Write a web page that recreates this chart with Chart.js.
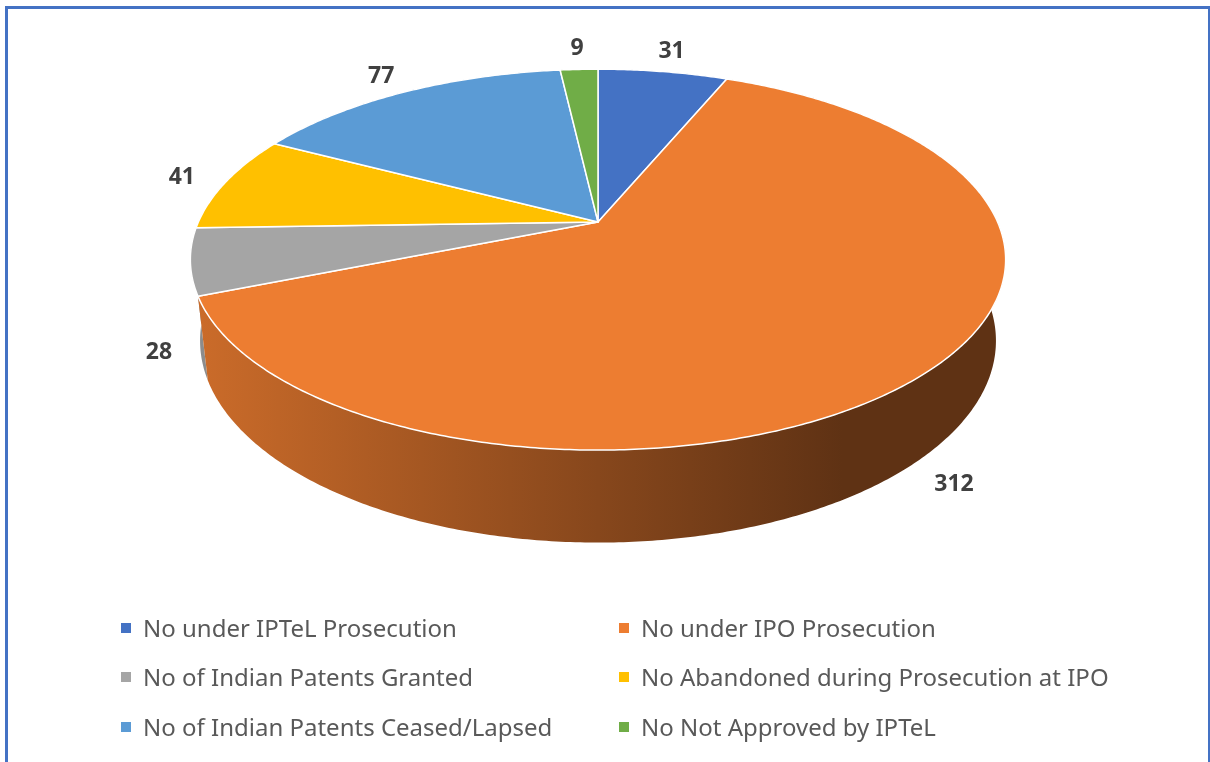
<!DOCTYPE html>
<html>
<head>
<meta charset="utf-8">
<script src="https://cdn.jsdelivr.net/npm/chart.js@4.4.1/dist/chart.umd.min.js"></script>
<style>
  html, body { margin: 0; padding: 0; background: #fff; overflow: hidden; }
  body { width: 1210px; height: 762px; position: relative; }
  #frame {
    position: absolute; left: 5px; top: 6px; width: 1205px; height: 800px; box-sizing: border-box;
    border-left: 3px solid #4472C4; border-top: 3px solid #4472C4; border-right: 2px solid #4472C4;
  }
  #chart { position: absolute; left: 0; top: 0; }
  #legend {
    position: absolute; left: 121px; top: 603px;
    display: grid; grid-template-columns: 498px auto; grid-auto-rows: 49.5px;
    font-family: "Noto Sans", sans-serif; font-size: 24px; color: #595959;
  }
  .item { display: flex; align-items: center; white-space: nowrap; line-height: 1; }
  .swatch { width: 10px; height: 10px; margin-right: 12px; flex: none; }
</style>
</head>
<body>
<div id="frame"></div>
<canvas id="chart" width="1210" height="762"></canvas>
<div id="legend"></div>
<script>
const categories = [
  'No under IPTeL Prosecution',
  'No under IPO Prosecution',
  'No of Indian Patents Granted',
  'No Abandoned during Prosecution at IPO',
  'No of Indian Patents Ceased/Lapsed',
  'No Not Approved by IPTeL'
];
const counts = [31, 312, 28, 41, 77, 9];
const sliceColors = ['#4472C4', '#ED7D31', '#A5A5A5', '#FFC000', '#5B9BD5', '#70AD47'];

// 3d look: tilted disc seen in perspective
const VIEW_DIST = 4.5;
const SIN_E = 0.458, COS_E = 0.889;
const THICK = 0.23;
const LENS = 1.8;

function project(cx, cy, s, x, y, z) {
  const w = VIEW_DIST - y * SIN_E + z * COS_E;
  const yc = y * COS_E + z * SIN_E;
  return [cx + s * VIEW_DIST * x / w, cy - s * VIEW_DIST * yc / w];
}

function shade(hex, f) {
  const n = parseInt(hex.slice(1), 16);
  const r = Math.round(((n >> 16) & 255) * f);
  const g = Math.round(((n >> 8) & 255) * f);
  const b = Math.round((n & 255) * f);
  return 'rgb(' + r + ',' + g + ',' + b + ')';
}

const pie3d = {
  id: 'pie3d',
  beforeDatasetsDraw(chart) {
    const ctx = chart.ctx;
    const arcs = chart.getDatasetMeta(0).data;
    const cx = arcs[0].x, cy = arcs[0].y;
    const s = arcs[0].outerRadius * LENS;
    const P = (r, a, y) => project(cx, cy, s, r * Math.cos(a), y, -r * Math.sin(a));
    const steps = (a0, a1) => Math.max(2, Math.ceil(Math.abs(a1 - a0) / 0.01));

    let minX = Infinity, maxX = -Infinity;
    for (let a = 0; a < Math.PI * 2; a += 0.01) {
      const p = P(1, a, 0);
      minX = Math.min(minX, p[0]);
      maxX = Math.max(maxX, p[0]);
    }

    ctx.save();
    // side walls, far ones first
    const order = arcs.map((_, i) => i).sort((i, j) => {
      const mi = (arcs[i].startAngle + arcs[i].endAngle) / 2;
      const mj = (arcs[j].startAngle + arcs[j].endAngle) / 2;
      return (-Math.sin(mj)) - (-Math.sin(mi));
    });
    order.forEach(i => {
      const arc = arcs[i];
      const n = steps(arc.startAngle, arc.endAngle);
      ctx.beginPath();
      for (let k = 0; k <= n; k++) {
        const p = P(1, arc.startAngle + (arc.endAngle - arc.startAngle) * k / n, 0);
        k ? ctx.lineTo(p[0], p[1]) : ctx.moveTo(p[0], p[1]);
      }
      for (let k = n; k >= 0; k--) {
        const p = P(1, arc.startAngle + (arc.endAngle - arc.startAngle) * k / n, -THICK);
        ctx.lineTo(p[0], p[1]);
      }
      ctx.closePath();
      const grad = ctx.createLinearGradient(minX, 0, maxX, 0);
      const col = sliceColors[i];
      grad.addColorStop(0, shade(col, 0.86));
      grad.addColorStop(0.5, shade(col, 0.57));
      grad.addColorStop(0.8, shade(col, 0.4));
      grad.addColorStop(1, shade(col, 0.4));
      ctx.fillStyle = grad;
      ctx.fill();
    });

    // top faces
    ctx.lineJoin = 'round';
    arcs.forEach((arc, i) => {
      const n = steps(arc.startAngle, arc.endAngle);
      ctx.beginPath();
      ctx.moveTo(cx, cy);
      for (let k = 0; k <= n; k++) {
        const p = P(1, arc.startAngle + (arc.endAngle - arc.startAngle) * k / n, 0);
        ctx.lineTo(p[0], p[1]);
      }
      ctx.closePath();
      ctx.fillStyle = sliceColors[i];
      ctx.fill();
      ctx.strokeStyle = '#ffffff';
      ctx.lineWidth = 1.5;
      ctx.stroke();
    });

    // value labels
    ctx.font = 'bold 23px "Open Sans", sans-serif';
    ctx.fillStyle = '#404040';
    ctx.textAlign = 'center';
    ctx.textBaseline = 'middle';
    arcs.forEach((arc, i) => {
      const mid = (arc.startAngle + arc.endAngle) / 2;
      const txt = String(counts[i]);
      let p;
      if (Math.sin(mid) > 0) {
        p = P(1.1, mid, -THICK * 1.05);
      } else {
        p = P(1.1, mid, 0);
        const dx = p[0] - cx, dy = p[1] - cy, len = Math.hypot(dx, dy);
        const tw = ctx.measureText(txt).width;
        p = [p[0] + dx / len * tw * 0.3, p[1] + dy / len * 8];
      }
      ctx.fillText(txt, p[0], p[1]);
    });
    ctx.restore();
    return false;
  }
};

new Chart(document.getElementById('chart'), {
  type: 'pie',
  data: {
    labels: categories,
    datasets: [{
      data: counts,
      backgroundColor: sliceColors,
      borderWidth: 0,
      hoverOffset: 0,
      radius: 222
    }]
  },
  options: {
    responsive: false,
    animation: false,
    events: [],
    layout: { padding: { left: 0, right: 14, top: 0, bottom: 318 } },
    plugins: {
      legend: { display: false },
      tooltip: { enabled: false }
    }
  },
  plugins: [pie3d]
});

const legendBox = document.getElementById('legend');
categories.forEach((name, i) => {
  const item = document.createElement('div');
  item.className = 'item';
  const sw = document.createElement('span');
  sw.className = 'swatch';
  sw.style.background = sliceColors[i];
  item.appendChild(sw);
  item.appendChild(document.createTextNode(name));
  legendBox.appendChild(item);
});
</script>
</body>
</html>
